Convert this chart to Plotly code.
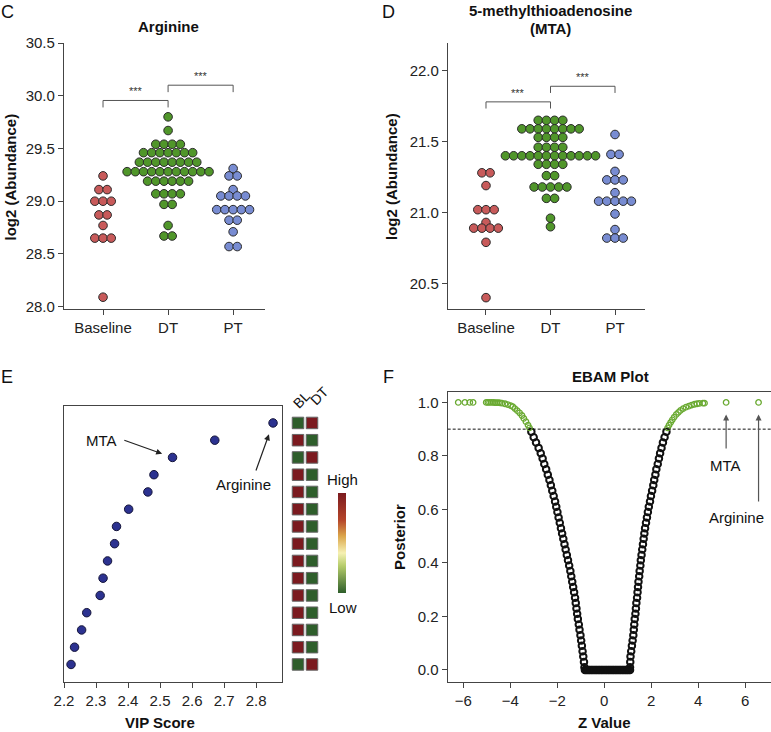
import plotly.graph_objects as go

W, H = 771, 732
FONT = "Liberation Sans, Arial, Helvetica, sans-serif"

# ---------------- data ----------------
categories = ["Baseline", "DT", "PT"]
group_colors = ["#c85a5a", "#50962a", "#788cd2"]

arg_baseline = [29.24, 29.11, 29.11, 29.00, 29.00, 29.00, 28.87, 28.87, 28.77,
                28.65, 28.65, 28.65, 28.09]
arg_dt = [29.80, 29.67,
          29.54, 29.54, 29.54, 29.54,
          29.46, 29.46, 29.46, 29.46, 29.46, 29.46, 29.46,
          29.37, 29.37, 29.37, 29.37, 29.37, 29.37, 29.37, 29.37,
          29.28, 29.28, 29.28, 29.28, 29.28, 29.28, 29.28, 29.28, 29.28, 29.28, 29.28,
          29.19, 29.19, 29.19, 29.19, 29.19, 29.19,
          29.07, 29.07, 29.07, 29.07,
          28.97, 28.97, 28.77, 28.67, 28.67]
arg_pt = [29.31, 29.24, 29.24, 29.11, 29.05, 29.05, 29.05, 29.05,
          28.92, 28.92, 28.92, 28.92, 28.92, 28.82, 28.82, 28.71, 28.57, 28.57]

mta_baseline = [21.28, 21.28, 21.19, 21.02, 21.02, 21.02, 20.93,
                20.89, 20.89, 20.89, 20.89, 20.79, 20.40]
mta_dt = [21.65, 21.65, 21.65, 21.65,
          21.59, 21.59, 21.59, 21.59, 21.59, 21.59, 21.59, 21.59,
          21.53, 21.53, 21.53, 21.53,
          21.46, 21.46, 21.46, 21.46,
          21.40, 21.40, 21.40, 21.40, 21.40, 21.40, 21.40, 21.40, 21.40, 21.40, 21.40, 21.40,
          21.34, 21.34, 21.34, 21.34,
          21.26, 21.26,
          21.18, 21.18, 21.18, 21.18, 21.18,
          21.10, 21.10, 20.96, 20.90]
mta_pt = [21.55, 21.41, 21.41, 21.29, 21.23, 21.23, 21.23, 21.14,
          21.08, 21.08, 21.08, 21.08, 21.08, 20.99, 20.88, 20.82, 20.82, 20.82]

sig_pairs = [(0, 1), (1, 2)]
arg_bracket_levels = [29.955, 30.10]
mta_bracket_levels = [21.78, 21.89]

arg_ticks = [28.0, 28.5, 29.0, 29.5, 30.0, 30.5]
mta_ticks = [20.5, 21.0, 21.5, 22.0]

# Panel E: VIP scores (top to bottom) and BL / DT relative levels (1 = high, 0 = low)
vip_scores = [2.853, 2.671, 2.539, 2.481, 2.462, 2.402, 2.364, 2.358,
              2.336, 2.322, 2.313, 2.271, 2.255, 2.233, 2.222]
bl_levels = [0, 1, 0, 1, 1, 1, 1, 1, 1, 1, 1, 1, 1, 1, 0]
dt_levels = [1, 0, 1, 0, 0, 0, 0, 0, 0, 0, 0, 0, 0, 0, 1]
heat_columns = ["BL", "DT"]
vip_ticks = [2.2, 2.3, 2.4, 2.5, 2.6, 2.7, 2.8]

# Panel F: EBAM z values and posterior probabilities
ebam_z = [
    -6.21, -5.93, -5.72, -5.58, -5.02, -4.95, -4.88, -4.80, -4.72, -4.65, -4.58, -4.50,
    -4.43, -4.35, -4.22, -4.10, -3.98, -3.89, -3.80, -3.70, -3.60, -3.50, -3.42, -3.33,
    -3.24, -3.18,
    -3.10, -3.00, -2.90, -2.79, -2.70, -2.62, -2.55, -2.47, -2.40, -2.33, -2.27, -2.21,
    -2.15, -2.09, -2.04, -1.99, -1.94, -1.89, -1.84, -1.79, -1.74, -1.69, -1.64, -1.59,
    -1.54, -1.49, -1.44, -1.40, -1.36, -1.32, -1.28, -1.24, -1.21, -1.18, -1.15, -1.12,
    -1.08, -1.05, -1.01, -0.98, -0.95, -0.92, -0.89, -0.86, -0.84,
    -0.82, -0.76, -0.70, -0.64, -0.58, -0.52, -0.46, -0.40, -0.34, -0.28, -0.22, -0.16,
    -0.10, -0.04, 0.02, 0.08, 0.14, 0.20, 0.26, 0.32, 0.38, 0.44, 0.50, 0.56, 0.62,
    0.68, 0.74, 0.80, 0.86, 0.92, 0.98, 1.04, 1.10,
    1.10, 1.11, 1.12, 1.15, 1.18, 1.21, 1.24, 1.26, 1.28, 1.30, 1.33, 1.35, 1.37, 1.40,
    1.42, 1.44, 1.46, 1.49, 1.51, 1.54, 1.56, 1.59, 1.62, 1.65, 1.68, 1.71, 1.74, 1.78,
    1.82, 1.86, 1.90, 1.95, 1.99, 2.04, 2.09, 2.13, 2.18, 2.22, 2.28, 2.33, 2.38, 2.44,
    2.50, 2.57, 2.65,
    2.70, 2.76, 2.83, 2.90, 2.98, 3.07, 3.16, 3.25, 3.36, 3.48, 3.60, 3.72, 3.84, 3.95,
    4.05, 4.20, 4.27, 5.19, 6.57]
ebam_post = [
    1.0, 1.0, 1.0, 1.0, 1.0, 1.0, 1.0, 1.0, 1.0, 0.999, 0.999, 0.999,
    0.998, 0.997, 0.995, 0.992, 0.988, 0.984, 0.977, 0.969, 0.961, 0.951, 0.940, 0.928,
    0.915, 0.905,
    0.89, 0.87, 0.85, 0.83, 0.81, 0.79, 0.77, 0.75, 0.73, 0.71, 0.69, 0.67,
    0.65, 0.63, 0.61, 0.59, 0.57, 0.55, 0.53, 0.51, 0.49, 0.47, 0.45, 0.43,
    0.41, 0.39, 0.37, 0.35, 0.33, 0.31, 0.29, 0.27, 0.25, 0.23, 0.21, 0.19,
    0.17, 0.15, 0.13, 0.11, 0.09, 0.07, 0.05, 0.03, 0.01,
    0.0, 0.0, 0.0, 0.0, 0.0, 0.0, 0.0, 0.0, 0.0, 0.0, 0.0, 0.0,
    0.0, 0.0, 0.0, 0.0, 0.0, 0.0, 0.0, 0.0, 0.0, 0.0, 0.0, 0.0, 0.0,
    0.0, 0.0, 0.0, 0.0, 0.0, 0.0, 0.0, 0.0,
    0.01, 0.03, 0.05, 0.07, 0.09, 0.11, 0.13, 0.15, 0.17, 0.19, 0.21, 0.23, 0.25, 0.27,
    0.29, 0.31, 0.33, 0.35, 0.37, 0.39, 0.41, 0.43, 0.45, 0.47, 0.49, 0.51, 0.53, 0.55,
    0.57, 0.59, 0.61, 0.63, 0.65, 0.67, 0.69, 0.71, 0.73, 0.75, 0.77, 0.79, 0.81, 0.83,
    0.85, 0.87, 0.89,
    0.905, 0.915, 0.925, 0.935, 0.945, 0.955, 0.963, 0.970, 0.977, 0.982, 0.986, 0.990,
    0.993, 0.995, 0.996, 0.997, 0.997, 1.0, 1.0]
posterior_threshold = 0.9
z_ticks = [-6, -4, -2, 0, 2, 4, 6]
post_ticks = [0.0, 0.2, 0.4, 0.6, 0.8, 1.0]


# ---------------- helpers ----------------
def px(x):
    return x / W


def py(y):
    return 1 - y / H


def swarm(values, center, step):
    counts = {}
    for v in values:
        counts[v] = counts.get(v, 0) + 1
    seen = {}
    xs = []
    for v in values:
        k = seen.get(v, 0)
        seen[v] = k + 1
        n = counts[v]
        xs.append(center + (k - (n - 1) / 2) * step)
    return xs


fig = go.Figure()

# ---------------- panels C and D ----------------
for (groups_vals, xa, ya, step, levels, drop) in [
    ([arg_baseline, arg_dt, arg_pt], "x", "y", 0.126, arg_bracket_levels, 0.066),
    ([mta_baseline, mta_dt, mta_pt], "x2", "y2", 0.127, mta_bracket_levels, 0.047),
]:
    for i, (vals, col) in enumerate(zip(groups_vals, group_colors)):
        fig.add_trace(go.Scatter(
            x=swarm(vals, i, step), y=vals, mode="markers",
            marker=dict(size=8.6, color=col, line=dict(color="#2a2a2a", width=1)),
            xaxis=xa, yaxis=ya, showlegend=False, hoverinfo="skip"))
    for (a, b), lvl in zip(sig_pairs, levels):
        fig.add_trace(go.Scatter(
            x=[a, a, b, b], y=[lvl - drop, lvl, lvl, lvl - drop], mode="lines",
            line=dict(color="#555", width=1), xaxis=xa, yaxis=ya,
            showlegend=False, hoverinfo="skip"))

# ---------------- panel E ----------------
n_rows = len(vip_scores)
rows = [n_rows - i for i in range(n_rows)]
fig.add_trace(go.Scatter(
    x=vip_scores, y=rows, mode="markers",
    marker=dict(size=8.5, color="#2c3290", line=dict(color="#15153a", width=1)),
    xaxis="x3", yaxis="y3", showlegend=False, hoverinfo="skip"))

heat_scale = [[0.0, "#2e5e2b"], [0.27, "#b5cc6a"], [0.40, "#f6f1b3"],
              [0.57, "#dba54a"], [0.73, "#b5452a"], [1.0, "#7b1a1f"]]
fig.add_trace(go.Scatter(
    x=[0] * n_rows + [1] * n_rows, y=rows + rows, mode="markers",
    marker=dict(symbol="square", size=11.5, color=bl_levels + dt_levels,
                colorscale=heat_scale, cmin=0, cmax=1, line=dict(color="#666", width=1),
                showscale=True,
                colorbar=dict(x=px(342), xanchor="center", y=py(543), yanchor="middle",
                              len=100, lenmode="pixels", thickness=8, outlinewidth=0,
                              showticklabels=False, ticks="", xpad=0, ypad=0)),
    xaxis="x4", yaxis="y3", showlegend=False, hoverinfo="skip"))

# ---------------- panel F ----------------
gz = [z for z, p in zip(ebam_z, ebam_post) if p >= posterior_threshold]
gp = [p for p in ebam_post if p >= posterior_threshold]
bz = [z for z, p in zip(ebam_z, ebam_post) if p < posterior_threshold]
bp = [p for p in ebam_post if p < posterior_threshold]
fig.add_trace(go.Scatter(
    x=bz, y=bp, mode="markers",
    marker=dict(symbol="circle-open", size=6.5, color="#111", line=dict(width=2)),
    xaxis="x5", yaxis="y5", showlegend=False, hoverinfo="skip"))
fig.add_trace(go.Scatter(
    x=gz, y=gp, mode="markers",
    marker=dict(symbol="circle-open", size=5.5, color="#6aaa32", line=dict(width=1.3)),
    xaxis="x5", yaxis="y5", showlegend=False, hoverinfo="skip"))

F_XR = [-6.66, 7.10]
fig.add_shape(type="line", xref="x5", yref="y5", x0=F_XR[0], x1=F_XR[1],
              y0=posterior_threshold, y1=posterior_threshold,
              line=dict(color="#111", width=1, dash="3px,2px"))


# ---------------- axes ----------------
def axis(domain, rng, **kw):
    d = dict(domain=domain, range=rng, showline=True, linecolor="#444", linewidth=1.2,
             ticks="outside", ticklen=5, tickwidth=1, tickcolor="#444",
             showgrid=False, zeroline=False,
             tickfont=dict(family=FONT, size=15, color="#222"))
    d.update(kw)
    return d


yCD = [py(309), py(43)]
yE = [py(681.7), py(405.7)]
yF = [py(681.7), py(391.7)]

fig.update_layout(
    width=W, height=H, margin=dict(l=0, r=0, t=0, b=0, autoexpand=False),
    paper_bgcolor="white", plot_bgcolor="white", showlegend=False,
    xaxis=axis([px(64), px(265)], [-0.6, 2.49], anchor="y",
               tickvals=[0, 1, 2], ticktext=categories),
    yaxis=axis(yCD, [27.978, 30.5], anchor="x", tickvals=arg_ticks, tickformat=".1f"),
    xaxis2=axis([px(448), px(645)], [-0.589, 2.465], anchor="y2",
                tickvals=[0, 1, 2], ticktext=categories),
    yaxis2=axis(yCD, [20.32, 22.195], anchor="x2", tickvals=mta_ticks, tickformat=".1f"),
    xaxis3=axis([px(64), px(282)], [2.2, 2.881], anchor="y3", mirror=True,
                tickvals=vip_ticks, tickformat=".1f"),
    yaxis3=axis(yE, [0, n_rows + 1], anchor="x3", mirror=True, ticks="",
                showticklabels=False),
    xaxis4=dict(domain=[px(284), px(326)], range=[-1, 2], anchor="y3", visible=False),
    xaxis5=axis([px(447.7), 1.0], F_XR, anchor="y5", mirror=True, tickvals=z_ticks),
    yaxis5=axis(yF, [-0.044, 1.04], anchor="x5", mirror=True, tickvals=post_ticks,
                tickformat=".1f"),
)

# ---------------- annotations ----------------
ann = []


def text(x, y, s, size=15, bold=False, angle=0, color="#111"):
    ann.append(dict(x=px(x), y=py(y), xref="paper", yref="paper",
                    text=("<b>" + s + "</b>") if bold else s,
                    showarrow=False, xanchor="center", yanchor="middle", textangle=angle,
                    font=dict(family=FONT, size=size, color=color)))


text(7, 12, "C", 18)
text(388, 12, "D", 18)
text(7, 377, "E", 18)
text(388, 377, "F", 18)
text(168, 27, "Arginine", 15, True)
text(550, 10, "5-methylthioadenosine", 15, True)
text(550, 29, "(MTA)", 15, True)
text(610, 376, "EBAM Plot", 15, True)
text(9.5, 177, "log2 (Abundance)", 15, True, -90)
text(391, 177, "log2 (Abundance)", 15, True, -90)
text(399, 537, "Posterior", 15, True, -90)
text(160, 722, "VIP Score", 15, True)
text(604, 722, "Z Value", 15, True)
text(301, 400, heat_columns[0], 14, False, -45)
text(319, 396, heat_columns[1], 14, False, -45)
text(342.5, 479, "High", 15)
text(342.5, 607, "Low", 15)
text(101.7, 441, "MTA", 15)
text(243.3, 484.3, "Arginine", 15)
text(725, 465, "MTA", 15)
text(736, 517.7, "Arginine", 15)

for xa, ya, levels in [("x", "y", arg_bracket_levels), ("x2", "y2", mta_bracket_levels)]:
    for (a, b), lvl in zip(sig_pairs, levels):
        ann.append(dict(x=(a + b) / 2, y=lvl, xref=xa, yref=ya, text="***",
                        showarrow=False, yanchor="bottom", yshift=1,
                        font=dict(family=FONT, size=11, color="#333")))

# arrows (E)
ann.append(dict(x=vip_scores[2], y=rows[2], xref="x3", yref="y3", text="", showarrow=True,
                ax=-49.7, ay=-17.7, arrowhead=2, arrowsize=1, arrowwidth=1.2,
                arrowcolor="#222", standoff=11))
ann.append(dict(x=vip_scores[0], y=rows[0], xref="x3", yref="y3", text="", showarrow=True,
                ax=-17.6, ay=49, arrowhead=2, arrowsize=1, arrowwidth=1.2,
                arrowcolor="#222", standoff=12))
# arrows (F)
ann.append(dict(x=gz[-2], y=gp[-2], xref="x5", yref="y5", text="", showarrow=True,
                ax=0, ay=47.7, arrowhead=2, arrowsize=1, arrowwidth=1.2,
                arrowcolor="#555", standoff=12))
ann.append(dict(x=gz[-1], y=gp[-1], xref="x5", yref="y5", text="", showarrow=True,
                ax=0, ay=100.7, arrowhead=2, arrowsize=1, arrowwidth=1.2,
                arrowcolor="#555", standoff=12))

fig.update_layout(annotations=ann)
fig.write_html(
    "out.html",
    config={"displayModeBar": False},
    post_script="document.body.style.margin='0px';document.body.style.overflow='hidden';",
)
